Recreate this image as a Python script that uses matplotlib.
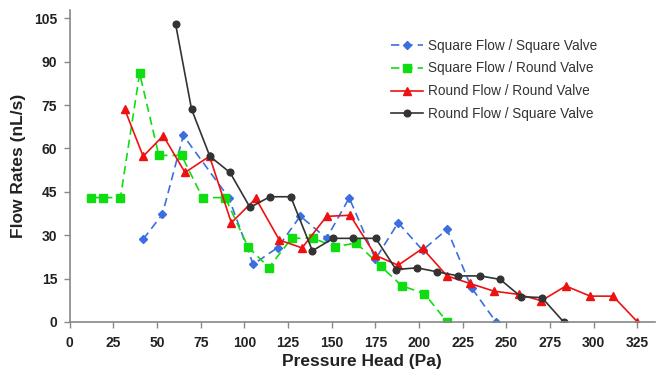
import matplotlib
matplotlib.use("Agg")
import matplotlib.pyplot as plt

plt.rcParams['font.family'] = ['Liberation Sans', 'DejaVu Sans']

# Square Flow / Square Valve
sq_sq_x = [42, 53, 65, 91, 105, 119, 132, 147, 160, 175, 188, 202, 216, 230, 244]
sq_sq_y = [28.6, 37.2, 64.5, 43, 19.9, 25.7, 36.6, 28.9, 42.9, 21.7, 34.3, 24.8, 32, 11.8, 0]

# Square Flow / Round Valve
sq_rd_x = [12, 19, 29, 40, 51, 64, 76, 89, 102, 114, 127, 139, 152, 164, 178, 190, 203, 216]
sq_rd_y = [43, 43, 43, 86, 57.6, 57.6, 43, 43, 26, 18.8, 28.9, 29, 26, 27.3, 19.3, 12.5, 9.8, 0]

# Round Flow / Round Valve
rd_rd_x = [31.5, 42, 53.5, 66, 80, 92.5, 106.5, 120, 133, 147, 160.5, 175, 188, 202, 216, 229,
           243, 257, 270, 284, 298, 311, 325]
rd_rd_y = [73.5, 57.3, 64.4, 51.7, 57.3, 34.3, 42.7, 28.3, 25.6, 36.5, 36.9, 23, 19.6, 25.4,
           15.9, 13.3, 10.6, 9.5, 7.3, 12.4, 8.9, 8.9, 0]

# Round Flow / Square Valve
rd_sq_x = [60.6, 69.7, 80.2, 91.7, 103.2, 114.6, 126.5, 138.9, 150.9, 162.4, 175.2, 186.8,
           198.7, 210.5, 222.5, 235, 246.4, 258.3, 270.3, 282.7]
rd_sq_y = [103, 73.6, 57.3, 51.7, 39.6, 43.3, 43.3, 24.6, 28.9, 28.9, 28.9, 18.1, 18.7, 17.3,
           15.9, 15.9, 14.7, 8.7, 8.4, 0]

labels = ['Square Flow / Square Valve', 'Square Flow / Round Valve',
          'Round Flow / Round Valve', 'Round Flow / Square Valve']

x_ticks = list(range(0, 326, 25))
y_ticks = list(range(0, 106, 15))

fig = plt.figure(figsize=(6.71, 3.76), dpi=100)
ax = fig.add_axes([0.104, 0.144, 0.872, 0.83])

ax.plot(sq_sq_x, sq_sq_y, color='#3b6fe0', ls=(0, (5, 3)), lw=1.2, marker='D', ms=3.8,
        label=labels[0])
ax.plot(sq_rd_x, sq_rd_y, color='#10dd10', ls=(0, (5, 3)), lw=1.2, marker='s', ms=5.5,
        label=labels[1])
ax.plot(rd_rd_x, rd_rd_y, color='#ee1111', lw=1.2, marker='^', ms=6, label=labels[2])
ax.plot(rd_sq_x, rd_sq_y, color='#333333', lw=1.2, marker='o', ms=4.8, label=labels[3])

ax.set_xlim(0, 335)
ax.set_ylim(0, 108)
ax.set_xticks(x_ticks)
ax.set_yticks(y_ticks)
for s in ['top', 'right']:
    ax.spines[s].set_visible(False)
for s in ['left', 'bottom']:
    ax.spines[s].set_color('#888888')
    ax.spines[s].set_linewidth(1.2)
ax.tick_params(colors='#888888', length=4, width=1, labelcolor='#222222', labelsize=10)
ax.tick_params(axis='x', pad=6)
ax.tick_params(axis='y', pad=5)
for lab in ax.get_xticklabels() + ax.get_yticklabels():
    lab.set_fontweight('bold')

ax.set_xlabel('Pressure Head (Pa)', fontsize=12.5, fontweight='bold', color='#222222', labelpad=3)
ax.set_ylabel('Flow Rates (nL/s)', fontsize=12.5, fontweight='bold', color='#222222', labelpad=6)

ax.legend(loc='upper left', bbox_to_anchor=(0.565, 0.93), bbox_transform=fig.transFigure,
          frameon=False, fontsize=9.8, handlelength=2.3, handletextpad=0.4, labelspacing=0.65,
          labelcolor='#333333')

fig.savefig('out.png', dpi=100)
